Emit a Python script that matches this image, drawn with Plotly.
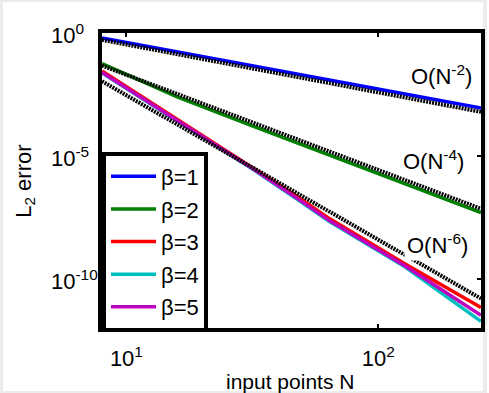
import math
import plotly.graph_objects as go

# ---- data ----
N = [8, 16, 32, 64, 128, 256]
beta1 = [0.631, 0.170, 0.0457, 0.0123, 3.31e-3, 8.91e-4]
beta2 = [5.69e-2, 2.45e-3, 1.60e-4, 1.08e-5, 7.30e-7, 4.90e-8]

N_hi = [8, 16, 32, 48, 64, 128, 256]
beta3 = [2.84e-2, 2.92e-4, 3.15e-6, 2.15e-7, 2.82e-8, 4.00e-10, 6.84e-12]
beta4 = [2.36e-2, 2.55e-4, 2.74e-6, 1.63e-7, 2.13e-8, 3.03e-10, 1.87e-12]
beta5 = [2.48e-2, 2.67e-4, 2.87e-6, 1.79e-7, 2.34e-8, 3.33e-10, 3.27e-12]

# reference slopes (end points of the straight dotted lines)
ref_N = [8, 256]
ref2 = [0.525, 6.17e-4]
ref4 = [4.73e-2, 7.08e-8]
ref6 = [1.08e-2, 1.58e-11]

ref_labels = ["O(N<sup>-2</sup>)", "O(N<sup>-4</sup>)", "O(N<sup>-6</sup>)"]
ref_label_N = [178, 166, 172]
ref_label_val = [2.0e-2, 7.0e-6, 2.5e-9]

series_names = ["β=1", "β=2", "β=3", "β=4", "β=5"]
series_colors = ["#0000ff", "#008000", "#ff0000", "#00bfbf", "#bf00bf"]

xtick_vals = [10, 100]
xtick_text = ["10<sup>1</sup>", "10<sup>2</sup>"]
ytick_vals = [0, -5, -10]
ytick_text = ["10<sup>0</sup>", "10<sup>-5</sup>", "10<sup>-10</sup>"]

FONT = "Liberation Sans, Arial, sans-serif"
W, H = 489, 393
ML, MR, MT, MB = 102, 4, 33, 65
PW, PH = W - ML - MR, H - MT - MB

fig = go.Figure()
xs = [N, N, N_hi, N_hi, N_hi]
ys = [beta1, beta2, beta3, beta4, beta5]
for i in range(5):
    fig.add_trace(go.Scatter(
        x=xs[i], y=ys[i], mode="lines", name=series_names[i],
        line=dict(color=series_colors[i], width=3.5),
        legendgroup=f"g{i}",
    ))

for r in [ref2, ref4, ref6]:
    fig.add_trace(go.Scatter(
        x=ref_N, y=r, mode="lines", showlegend=False,
        line=dict(color="black", width=4, dash="2px,1px"),
    ))

annotations = []
for t, xn, yv in zip(ref_labels, ref_label_N, ref_label_val):
    annotations.append(dict(
        x=math.log10(xn), y=math.log10(yv), xref="x", yref="y",
        text=t, showarrow=False, bgcolor="white", borderpad=2,
        font=dict(family=FONT, size=22, color="black"),
    ))
for v, t in zip(ytick_vals, ytick_text):
    annotations.append(dict(
        x=(48 - ML) / PW, y=v, xref="paper", yref="y", text=t,
        xanchor="left", yanchor="middle", showarrow=False, yshift=-1,
        font=dict(family=FONT, size=22, color="black"),
    ))
annotations.append(dict(
    x=(292 - ML) / PW, y=(MT + PH - 381) / PH, xref="paper", yref="paper",
    text="input points N", showarrow=False, xanchor="center", yanchor="middle",
    font=dict(family=FONT, size=21, color="black"),
))
annotations.append(dict(
    x=(24 - ML) / PW, y=(MT + PH - 181) / PH, xref="paper", yref="paper",
    text="L<sub>2</sub> error", showarrow=False, textangle=-90,
    xanchor="center", yanchor="middle",
    font=dict(family=FONT, size=22, color="black"),
))

axis_common = dict(
    showline=True, linewidth=4, linecolor="black", mirror="allticks",
    ticks="inside", ticklen=4, tickwidth=2, tickcolor="black",
    showgrid=False, zeroline=False,
)

fig.update_layout(
    width=W, height=H,
    margin=dict(l=ML, r=MR, t=MT, b=MB),
    paper_bgcolor="white", plot_bgcolor="white",
    font=dict(family=FONT, size=22, color="black"),
    xaxis=dict(type="log", range=[0.90309, 2.40824], tickvals=xtick_vals,
               ticktext=xtick_text, tickfont=dict(size=22),
               ticklabelstandoff=8, **axis_common),
    yaxis=dict(type="log", range=[-12, 0], tickvals=[1, 1e-5, 1e-10],
               showticklabels=False, **axis_common),
    legend=dict(x=0, y=-0.012, xanchor="left", yanchor="bottom",
                bgcolor="white", bordercolor="black", borderwidth=4,
                font=dict(family=FONT, size=22), tracegroupgap=1,
                itemwidth=45),
    annotations=annotations,
    shapes=[dict(type="rect", xref="paper", yref="paper",
                 x0=-ML / PW, x1=1 + MR / PW, y0=-MB / PH, y1=1 + MT / PH,
                 line=dict(color="#ececec", width=4), layer="below")],
    showlegend=True,
)

fig.write_html("out.html")
